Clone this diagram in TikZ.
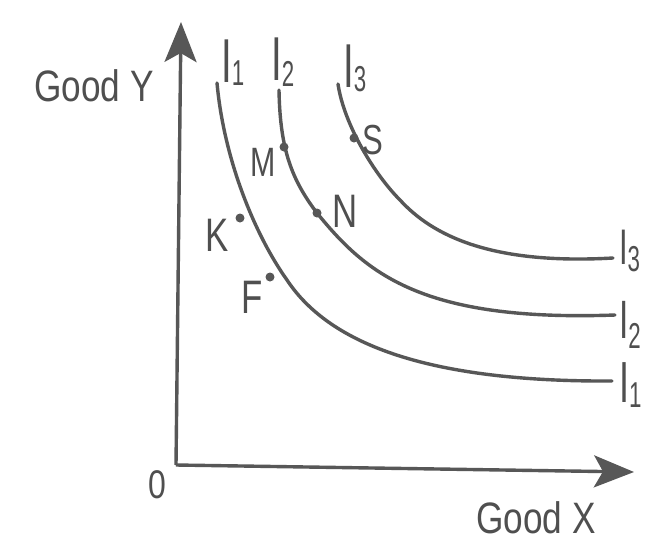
\documentclass[tikz,border=0pt]{standalone}
\usepackage{fontspec}
\setmainfont{Liberation Sans}
\usetikzlibrary{arrows.meta}
\definecolor{ln}{HTML}{575757}
\definecolor{tx}{HTML}{4F4F4F}
\newcommand{\ilab}[2]{I\raisebox{-#2pt}{\fontsize{36}{36}\selectfont #1}}
\begin{document}
\begin{tikzpicture}[x=1pt,y=-1pt,
  curve/.style={draw=ln,line width=3.4pt,line cap=round},
  axis/.style={draw=ln,line width=3.4pt,-{Stealth[length=40pt,width=32pt,inset=9pt]}},
  lbl/.style={text=tx,font=\fontsize{47}{47}\selectfont,xscale=0.74,inner sep=0pt},
  axlbl/.style={text=tx,font=\fontsize{44}{44}\selectfont,xscale=0.8,inner sep=0pt},
  ilbl/.style={text=tx,font=\fontsize{62}{62}\selectfont,xscale=0.62,inner sep=0pt,anchor=base west},
  dot/.style={circle,fill=ln,inner sep=0pt,minimum size=9pt}]
\useasboundingbox (0,0) rectangle (651,542);
\fill[white] (0,0) rectangle (651,542);
\coordinate (O) at (176,465);
\coordinate (Ytip) at (181,22);
\coordinate (Xtip) at (634,472);
\draw[axis] (O) -- (Ytip);
\draw[axis] (O) -- (Xtip);
\node[axlbl,font=\fontsize{40}{40}\selectfont] (zero) at (157,485) {0};
\node[axlbl] (gy) at (94,86) {Good Y};
\node[axlbl] (gx) at (536,518) {Good X};
% curves
\draw[curve] (217,83) .. controls (224,160) and (255,235) .. (287,280)
  .. controls (330,345) and (430,382) .. (612,381);
\draw[curve] (279,90) .. controls (280,150) and (292,180) .. (317,213)
  .. controls (365,272) and (420,322) .. (615,315);
\draw[curve] (338,84) .. controls (344,125) and (375,175) .. (400,200)
  .. controls (432,235) and (490,265) .. (613,258);
% curve labels
\node[ilbl] (i1) at (221,82) {\ilab{1}{3}};
\node[ilbl] (i2) at (271,80) {\ilab{2}{6}};
\node[ilbl] (i3) at (343,87) {\ilab{3}{4}};
\node[ilbl,font=\fontsize{50}{50}\selectfont] (r3) at (619,264) {\ilab{3}{7}};
\node[ilbl,font=\fontsize{54}{54}\selectfont] (r2) at (619,338) {\ilab{2}{10}};
\node[ilbl,font=\fontsize{58}{58}\selectfont] (r1) at (619,402) {\ilab{1}{5}};
% points
\node[dot] (M) at (284,147) {};
\node[dot] (N) at (317,213) {};
\node[dot] (S) at (354,138) {};
\node[dot] (K) at (240,218) {};
\node[dot] (F) at (270,277) {};
\node[lbl,font=\fontsize{41}{41}\selectfont] (lM) at (263,162) {M};
\node[lbl] (lN) at (345,211) {N};
\node[lbl,font=\fontsize{42}{42}\selectfont] (lS) at (373,140) {S};
\node[lbl] (lK) at (217,235) {K};
\node[lbl] (lF) at (252,297) {F};
\end{tikzpicture}
\end{document}
